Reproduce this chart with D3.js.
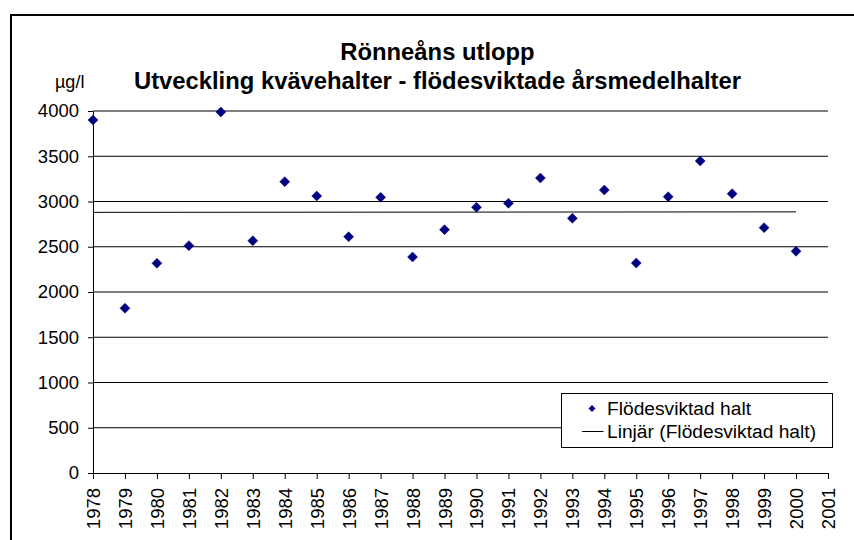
<!DOCTYPE html>
<html>
<head>
<meta charset="utf-8">
<script src="https://cdn.jsdelivr.net/npm/d3@7"></script>
<style>
  html, body { margin: 0; padding: 0; background: #fff; }
  svg { display: block; font-family: "Liberation Sans", Arial, sans-serif; }
</style>
</head>
<body>
<svg id="chart" width="854" height="540"></svg>
<script>
// ---- data ----
const years = [1978,1979,1980,1981,1982,1983,1984,1985,1986,1987,1988,1989,1990,1991,1992,1993,1994,1995,1996,1997,1998,1999,2000];
const values = [3900,1820,2317,2512,3989,2567,3219,3061,2611,3046,2387,2689,2936,2980,3260,2814,3127,2320,3053,3448,3086,2711,2450];
const axisYears = [1978,1979,1980,1981,1982,1983,1984,1985,1986,1987,1988,1989,1990,1991,1992,1993,1994,1995,1996,1997,1998,1999,2000,2001];
const yTicks = [0,500,1000,1500,2000,2500,3000,3500,4000];
const titleLines = ["Rönneåns utlopp", "Utveckling kvävehalter - flödesviktade årsmedelhalter"];
const yUnit = "µg/l";
const legendLabels = ["Flödesviktad halt", "Linjär (Flödesviktad halt)"];

// ---- layout ----
const svg = d3.select("#chart");
const x = d3.scalePoint().domain(axisYears).range([93, 828]);
const y = d3.scaleLinear().domain([0, 4000]).range([473, 111]);
const markerColor = "#000080";
const FONT = "'Liberation Sans', Arial, sans-serif";

// outer frame
svg.append("rect").attr("x", 11).attr("y", 15).attr("width", 860).attr("height", 540)
  .attr("fill", "none").attr("stroke", "#000").attr("stroke-width", 2);

// titles
svg.selectAll("text.title").data(titleLines).enter().append("text")
  .attr("class", "title")
  .attr("x", 437.5).attr("y", (d, i) => 59.5 + i * 29)
  .attr("text-anchor", "middle")
  .attr("font-size", 23.8).attr("font-weight", "bold").attr("fill", "#000")
  .text(d => d);

// unit label
svg.append("text").attr("x", 55).attr("y", 88).attr("font-size", 18).text(yUnit);

// gridlines
svg.append("g").selectAll("line").data(yTicks.filter(d => d > 0)).enter().append("line")
  .attr("x1", x(1978)).attr("x2", x(2001))
  .attr("y1", d => y(d)).attr("y2", d => y(d))
  .attr("stroke", "#000").attr("stroke-width", 1);

// y axis
const yAxis = d3.axisLeft(y).tickValues(yTicks).tickSizeInner(5).tickSizeOuter(0).tickPadding(9)
  .tickFormat(d3.format("d"));
const gy = svg.append("g").attr("transform", `translate(${x(1978)},0)`).call(yAxis);
gy.attr("font-size", null).attr("font-family", null);
gy.select(".domain").attr("stroke", "#000");
gy.selectAll(".tick line").attr("stroke", "#000");
gy.selectAll(".tick text").attr("font-size", 18.5).attr("fill", "#000").attr("font-family", FONT);

// x axis
const xAxis = d3.axisBottom(x).tickSizeInner(6).tickSizeOuter(0).tickFormat(d3.format("d"));
const gx = svg.append("g").attr("transform", `translate(0,${y(0)})`).call(xAxis);
gx.attr("font-size", null).attr("font-family", null);
gx.select(".domain").attr("stroke", "#000");
gx.selectAll(".tick line").attr("stroke", "#000");
gx.selectAll(".tick text").attr("font-size", 18.5).attr("fill", "#000").attr("font-family", FONT)
  .attr("text-anchor", "end")
  .attr("transform", "rotate(-90)")
  .attr("x", -15).attr("y", 0).attr("dy", "0.35em");

// trend line (least squares on the data)
const n = years.length;
const mx = d3.mean(years), my = d3.mean(values);
const slope = d3.sum(years.map((yr, i) => (yr - mx) * (values[i] - my))) / d3.sum(years.map(yr => (yr - mx) ** 2));
const icpt = my - slope * mx;
const trend = [years[0], years[n - 1]].map(yr => [yr, icpt + slope * yr]);
svg.append("path")
  .attr("d", d3.line().x(d => x(d[0])).y(d => y(d[1]))(trend))
  .attr("stroke", "#000").attr("stroke-width", 1).attr("fill", "none");

// markers
const diamond = (cx, cy, r) => `M${cx},${cy - r}L${cx + r},${cy}L${cx},${cy + r}L${cx - r},${cy}Z`;
svg.append("g").selectAll("path").data(years).enter().append("path")
  .attr("d", (d, i) => diamond(x(d), y(values[i]), 5))
  .attr("fill", markerColor).attr("stroke", markerColor).attr("stroke-width", 0.5);

// legend
const lg = svg.append("g");
lg.append("rect").attr("x", 561.5).attr("y", 393.5).attr("width", 271).attr("height", 54)
  .attr("fill", "#fff").attr("stroke", "#000").attr("stroke-width", 1);
lg.append("path").attr("d", diamond(592, 408.5, 3.5)).attr("fill", markerColor);
lg.append("line").attr("x1", 582).attr("x2", 603.5).attr("y1", 431.5).attr("y2", 431.5)
  .attr("stroke", "#000").attr("stroke-width", 1);
lg.selectAll("text").data(legendLabels).enter().append("text")
  .attr("x", 607).attr("y", (d, i) => 415 + i * 23)
  .attr("font-size", 19.2).attr("fill", "#000").text(d => d);
</script>
</body>
</html>
